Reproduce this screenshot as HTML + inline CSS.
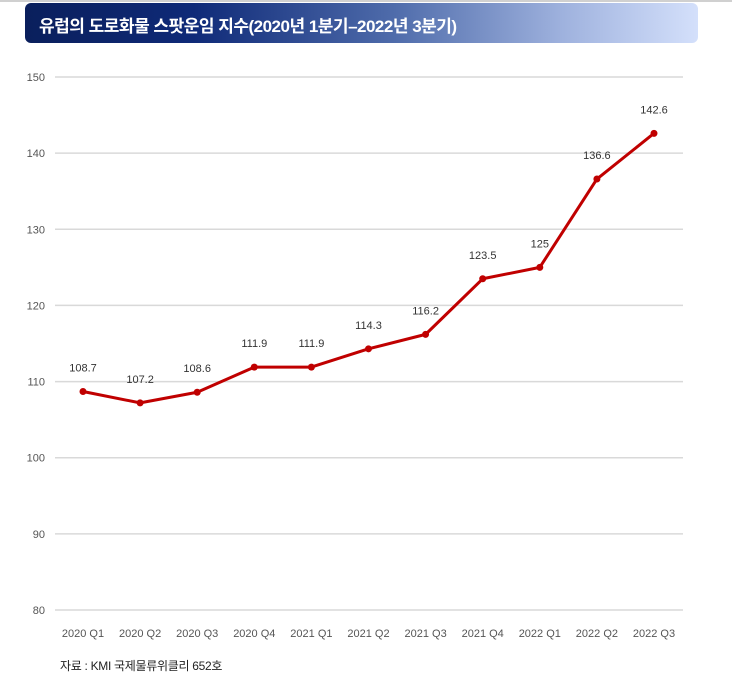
<!DOCTYPE html>
<html><head><meta charset="utf-8">
<style>
body{margin:0;width:732px;height:690px;background:#fff;overflow:hidden;font-family:"Liberation Sans","Noto Sans CJK KR",sans-serif;position:relative}
#topline{position:absolute;left:0;top:0;width:732px;height:2px;background:#d0d0d0}
#banner{position:absolute;left:25px;top:3px;width:673px;height:40px;border-radius:6px;background:linear-gradient(90deg,#0a1f5c 0%,#0f2a78 25%,#4f6cab 55%,#9fb2de 80%,#d4e0fb 100%)}
#title{position:absolute;left:14px;top:9px;color:#fff;font-weight:bold;font-size:17px;letter-spacing:-0.5px;white-space:nowrap}
#note{position:absolute;left:60px;top:657px;font-size:12px;color:#222;letter-spacing:-0.3px}
svg{position:absolute;left:0;top:0}
</style></head><body>
<div id="topline"></div>
<div id="banner"><div id="title">유럽의 도로화물 스팟운임 지수(2020년 1분기–2022년 3분기)</div></div>
<svg id="chart" width="732" height="690"></svg>
<div id="note">자료 : KMI 국제물류위클리 652호</div>
<script>
const categories=["2020 Q1","2020 Q2","2020 Q3","2020 Q4","2021 Q1","2021 Q2","2021 Q3","2021 Q4","2022 Q1","2022 Q2","2022 Q3"];
const values=[108.7,107.2,108.6,111.9,111.9,114.3,116.2,123.5,125,136.6,142.6];
const valueLabels=["108.7","107.2","108.6","111.9","111.9","114.3","116.2","123.5","125","136.6","142.6"];
const yTicks=[80,90,100,110,120,130,140,150];
const svg=document.getElementById('chart');const NS='http://www.w3.org/2000/svg';
const y=v=>610-(v-80)*(533/70);
const x=i=>83+i*57.1;
function mk(t,a){const e=document.createElementNS(NS,t);for(const k in a)e.setAttribute(k,a[k]);svg.appendChild(e);return e;}
yTicks.forEach(t=>{
 const l=mk('line',{x1:55,x2:683,y1:y(t),y2:y(t),stroke:'#d9d9d9','stroke-width':1.5});
 
 
 const tx=mk('text',{x:45,y:y(t)+4,'text-anchor':'end','font-size':11,fill:'#555','font-family':'Liberation Sans Narrow, Liberation Sans, sans-serif'});tx.textContent=t;
 
 
});
categories.forEach((c,i)=>{
 const tx=mk('text',{x:x(i),y:637,'text-anchor':'middle','font-size':11,fill:'#555','font-family':'Liberation Sans Narrow, Liberation Sans, sans-serif'});tx.textContent=c;
 
 
});
const p=mk('polyline',{points:values.map((v,i)=>x(i)+','+y(v)).join(' '),fill:'none',stroke:'#c00000','stroke-width':3,'stroke-linejoin':'round'});


values.forEach((v,i)=>{
 const c=mk('circle',{cx:x(i),cy:y(v),r:3.5,fill:'#c00000'});
 
 
 const tx=mk('text',{x:x(i),y:y(v)-20,'text-anchor':'middle','font-size':11,fill:'#333','font-family':'Liberation Sans Narrow, Liberation Sans, sans-serif'});tx.textContent=valueLabels[i];
 
 
});
</script>
</body></html>
